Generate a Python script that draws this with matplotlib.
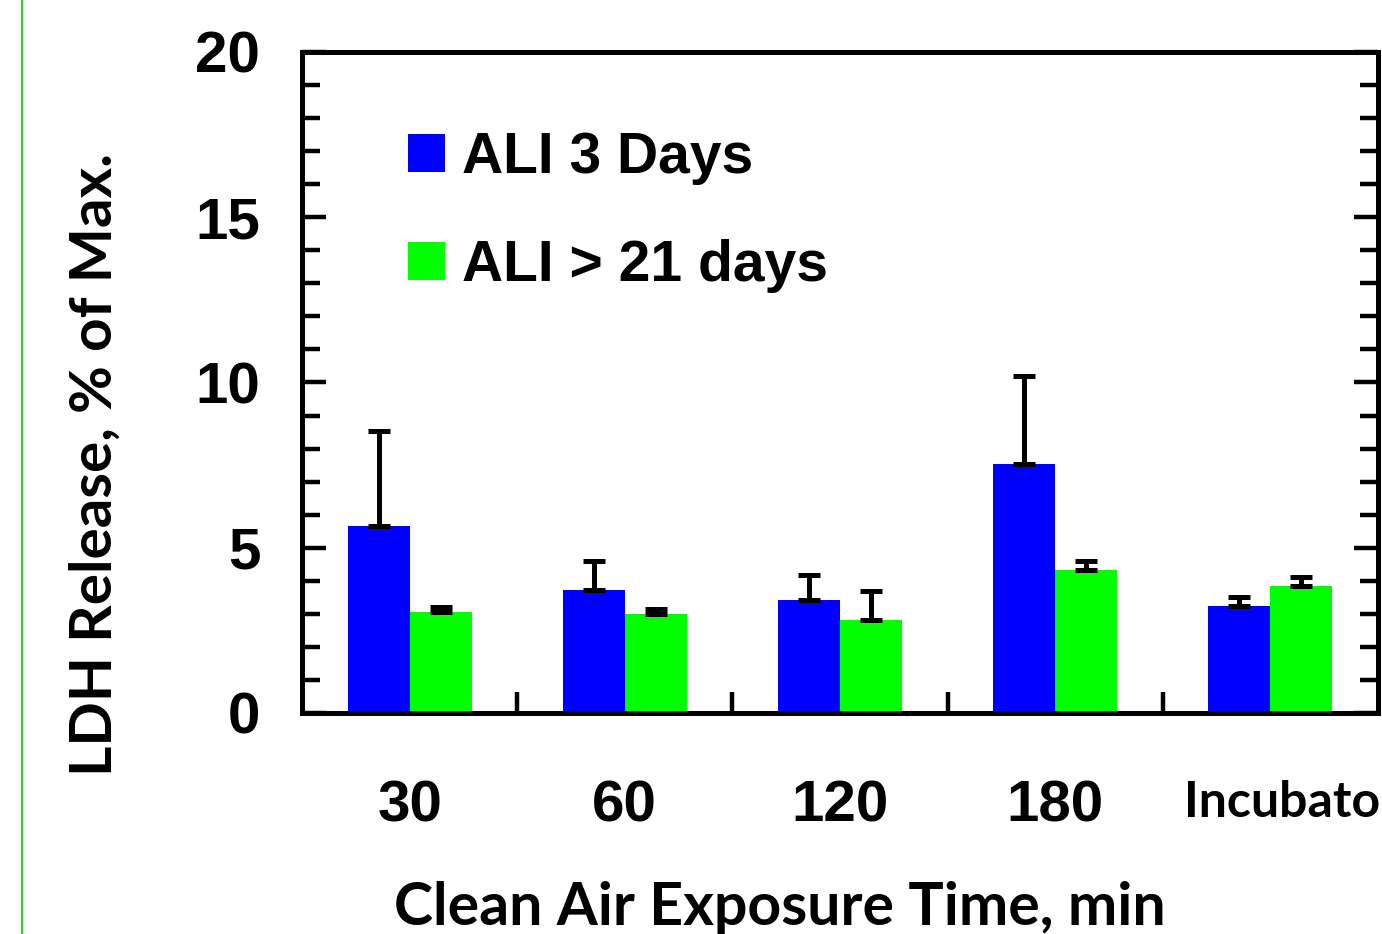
import matplotlib
matplotlib.use("Agg")
import matplotlib.pyplot as plt
from matplotlib.patches import Patch
from matplotlib.lines import Line2D
import matplotlib.transforms as mtransforms
import numpy as np

categories = ["30", "60", "120", "180", "Incubato"]
ali3_values = [5.66, 3.72, 3.42, 7.53, 3.24]
ali3_err = [2.87, 0.88, 0.76, 2.67, 0.27]
ali21_values = [3.06, 3.00, 2.81, 4.33, 3.84]
ali21_err = [0.15, 0.15, 0.88, 0.27, 0.27]
series_names = ["ALI 3 Days", "ALI > 21 days"]
y_ticks = [0, 5, 10, 15, 20]

W, H = 1382, 934
fig = plt.figure(figsize=(W / 100, H / 100), dpi=100)
ax = fig.add_axes([302 / W, (H - 713) / H, 1076 / W, 661 / H])

x = np.arange(len(categories))
bw = 0.288
ax.bar(x - bw / 2, ali3_values, width=bw, color="#0000ff", zorder=2)
ax.bar(x + bw / 2, ali21_values, width=bw, color="#00ff00", zorder=2)
ekw = dict(fmt="none", ecolor="black", elinewidth=3.6, capsize=8, capthick=3.6, zorder=3)
ax.errorbar(x - bw / 2, ali3_values, yerr=[np.zeros(len(x)), ali3_err], **ekw)
ax.errorbar(x + bw / 2, ali21_values, yerr=[np.zeros(len(x)), ali21_err], **ekw)

ax.set_xlim(-0.5, len(categories) - 0.5)
ax.set_ylim(0, 20)

for s in ax.spines.values():
    s.set_linewidth(3.6)

ax.set_yticks(y_ticks)
ax.set_yticks(np.arange(0, 21, 1), minor=True)
ax.tick_params(axis="y", which="both", direction="in", left=True, right=True, width=3.2)
ax.tick_params(axis="y", which="major", length=17, pad=30)
ax.tick_params(axis="y", which="minor", length=13)
for lab in ax.get_yticklabels():
    lab.set_fontsize(42)
    lab.set_fontweight("bold")
    lab.set_family("Liberation Sans")

ax.set_xticks(x)
ax.set_xticks(x[:-1] + 0.5, minor=True)
ax.tick_params(axis="x", which="major", length=0, pad=48)
ax.tick_params(axis="x", which="minor", direction="in", length=15, width=3.2)
ax.set_xticklabels(categories)
for i, lab in enumerate(ax.get_xticklabels()):
    lab.set_fontweight("bold")
    if i == len(categories) - 1:
        lab.set_fontsize(36)
        lab.set_family("Lato")
        lab.set_transform(lab.get_transform() +
                          mtransforms.ScaledTranslation(12 / 100, 0, fig.dpi_scale_trans))
    else:
        lab.set_fontsize(42)
        lab.set_family("Liberation Sans")

handles = [Patch(facecolor="#0000ff", edgecolor="none"),
           Patch(facecolor="#00ff00", edgecolor="none")]
leg = ax.legend(handles, series_names, loc="upper left", bbox_to_anchor=(0.051, 0.958),
                frameon=False, handlelength=0.65, handleheight=0.65, handletextpad=0.3,
                labelspacing=0.95, prop={"family": "Liberation Sans", "weight": "bold", "size": 41})

fig.text(95 / W, 1 - 465 / H, "LDH Release, % of Max.", rotation=90, ha="center", va="center",
         fontsize=42, fontweight="bold", family="Lato")
fig.text(780 / W, 1 - 908 / H, "Clean Air Exposure Time, min", ha="center", va="center",
         fontsize=42.5, fontweight="bold", family="Lato")

fig.add_artist(Line2D([22 / W, 22 / W], [0, 1], transform=fig.transFigure, color="#33cc33", lw=1.5))

fig.savefig("out.png", dpi=100)
